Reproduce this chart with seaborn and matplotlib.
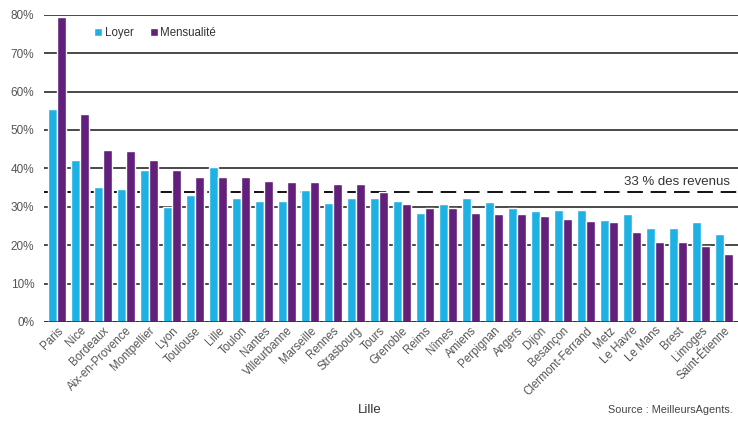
import matplotlib
matplotlib.use("Agg")
import matplotlib.pyplot as plt
import seaborn as sns
import pandas as pd
from matplotlib.ticker import FuncFormatter

cities = ["Paris", "Nice", "Bordeaux", "Aix-en-Provence", "Montpellier", "Lyon",
          "Toulouse", "Lille", "Toulon", "Nantes", "Villeurbanne", "Marseille",
          "Rennes", "Strasbourg", "Tours", "Grenoble", "Reims", "Nîmes", "Amiens",
          "Perpignan", "Angers", "Dijon", "Besançon", "Clermont-Ferrand", "Metz",
          "Le Havre", "Le Mans", "Brest", "Limoges", "Saint-Étienne"]
loyer = [55.4, 42.3, 35.2, 34.6, 39.7, 30.0, 33.0, 40.3, 32.4, 31.6, 31.5, 34.3,
         31.0, 32.4, 32.4, 31.5, 28.3, 30.7, 32.2, 31.3, 29.8, 28.9, 29.1, 29.1,
         26.5, 28.0, 24.4, 24.4, 26.0, 23.0]
mensualite = [79.3, 54.1, 44.9, 44.5, 42.3, 39.6, 37.8, 37.7, 37.7, 36.8, 36.5, 36.5,
              35.9, 36.0, 33.9, 30.6, 29.8, 29.8, 28.5, 28.1, 28.1, 27.7, 26.8, 26.3,
              26.0, 23.4, 20.8, 20.8, 19.9, 17.6]
series_names = ["Loyer", "Mensualité"]
yticks = [0, 10, 20, 30, 40, 50, 60, 70, 80]
threshold = 33.9
threshold_label = "33 % des revenus"
source_text = "Source : MeilleursAgents."
stray_text = "Lille"

df = pd.DataFrame({
    "Ville": cities * 2,
    "Série": [series_names[0]] * len(cities) + [series_names[1]] * len(cities),
    "Valeur": loyer + mensualite,
})

sns.set_theme(style="white")
plt.rcParams["font.family"] = ["Liberation Sans", "DejaVu Sans"]

fig = plt.figure(figsize=(7.38, 4.22), dpi=100)
ax = fig.add_axes([44 / 738, 1 - 322 / 422, 694 / 738, (322 - 14.7) / 422])

palette = {"Loyer": "#1db2e3", "Mensualité": "#62207c"}
sns.barplot(data=df, x="Ville", y="Valeur", hue="Série", palette=palette,
            order=cities, hue_order=series_names, ax=ax, saturation=1,
            width=0.8, legend=True, zorder=3)

ax.set_ylim(0, 80)
ax.set_xlim(-0.565, 29.61)
ax.set_yticks(yticks)
ax.yaxis.set_major_formatter(FuncFormatter(lambda v, p: f"{int(v)}%"))
ax.grid(axis="y", color="#2a2a2a", linewidth=1.2, zorder=0)
ax.grid(axis="x", visible=False)
for s in ax.spines.values():
    s.set_visible(False)
ax.axhline(0, color="#2a2a2a", linewidth=1.8, zorder=4)
ax.axhline(threshold, color="#111111", linewidth=1.4, dashes=(8, 4), zorder=2)
ax.text(29.25, threshold + 0.9, threshold_label, ha="right", va="bottom",
        fontsize=9.5, color="#333333")

ax.set_xlabel("")
ax.set_ylabel("")
ax.tick_params(axis="y", length=0, pad=7, labelsize=8.5, labelcolor="#555555")
ax.tick_params(axis="x", length=0, pad=2, labelsize=8.3, labelcolor="#555555")
for lab in ax.get_xticklabels():
    lab.set_rotation(45)
    lab.set_ha("right")
    lab.set_rotation_mode("anchor")

handles, labels = ax.get_legend_handles_labels()
ax.legend(handles, labels, loc="center left", bbox_to_anchor=(84 / 738, 1 - 33 / 422),
          bbox_transform=fig.transFigure, ncol=2, frameon=False,
          handlelength=0.7, handleheight=0.7, handletextpad=0.2, columnspacing=1.4,
          fontsize=8.3, labelcolor="#333333")

fig.text(370 / 738, 1 - 410 / 422, stray_text, ha="center", va="center",
         fontsize=9.5, color="#333333")
fig.text(733 / 738, 1 - 410 / 422, source_text, ha="right", va="center",
         fontsize=7.8, color="#444444")

fig.savefig("out.png", dpi=100)
